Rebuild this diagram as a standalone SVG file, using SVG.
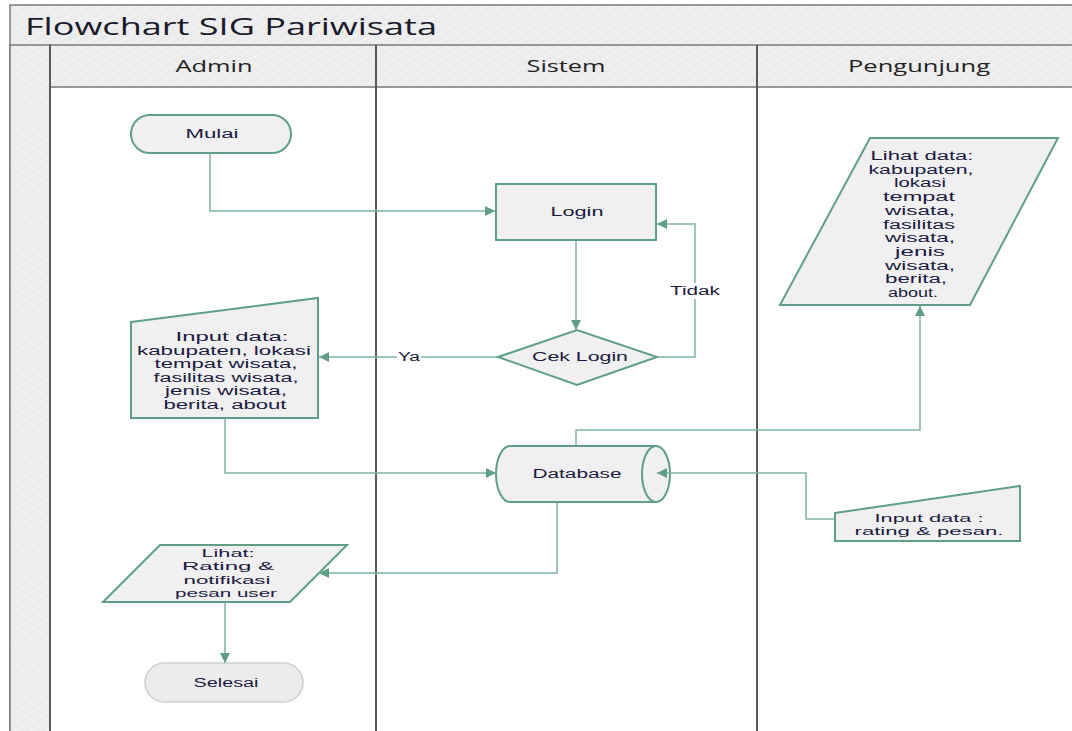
<svg xmlns="http://www.w3.org/2000/svg" width="1072" height="731" viewBox="0 0 1072 731">
<defs>
<pattern id="stripe" width="8" height="8" patternUnits="userSpaceOnUse" patternTransform="rotate(-30)">
<rect width="8" height="8" fill="#ececec"/>
<line x1="0" y1="0" x2="8" y2="0" stroke="#f4f4f4" stroke-width="2"/>
</pattern>
<marker id="arr" viewBox="0 0 10 10" refX="10" refY="5" markerWidth="10" markerHeight="10" markerUnits="userSpaceOnUse" orient="auto">
<path d="M0,0 L10,5 L0,10 z" fill="#5f9f86"/>
</marker>
</defs>
<style>
.frame{fill:url(#stripe);stroke:#7a7a7a;stroke-width:1.5}
.lane{stroke:#5a5a5a;stroke-width:2}
.node{fill:#f0f0f0;stroke:#5f9f86;stroke-width:2}
.conn{fill:none;stroke:#7fb5a0;stroke-width:1.5}
.t{font-family:"Liberation Sans",Arial,sans-serif;font-size:12px;fill:#1a1a40;text-anchor:middle;dominant-baseline:central}
.s{font-size:11.5px}
.h{font-family:"Open Sans","Noto Sans",sans-serif;font-size:16px;fill:#222;text-anchor:middle;dominant-baseline:central}
.lbl{fill:#ffffff}
</style>
<rect width="1072" height="731" fill="#ffffff"/>
<g id="frame">
<rect class="frame" x="10" y="5" width="1080" height="740"/>
<rect class="frame" x="10" y="45" width="40" height="700"/>
<rect class="frame" x="50" y="45" width="1040" height="42"/>
<rect x="51" y="88" width="1030" height="650" fill="#ffffff"/>
<line class="lane" x1="50" y1="45" x2="50" y2="731"/>
<line class="lane" x1="376" y1="45" x2="376" y2="731"/>
<line class="lane" x1="757" y1="45" x2="757" y2="731"/>
<text x="25" y="25" font-family="'Open Sans','Noto Sans',sans-serif" font-size="24" fill="#1a1a2a" dominant-baseline="central" textLength="412" lengthAdjust="spacingAndGlyphs">Flowchart SIG Pariwisata</text>
<text class="h" x="214" y="66" textLength="77" lengthAdjust="spacingAndGlyphs">Admin</text>
<text class="h" x="566" y="66" textLength="79" lengthAdjust="spacingAndGlyphs">Sistem</text>
<text class="h" x="919" y="66" textLength="142" lengthAdjust="spacingAndGlyphs">Pengunjung</text>
</g>
<g id="mulai">
<rect class="node" x="131" y="115" width="160" height="38" rx="19"/>
<text class="t" x="212" y="134" textLength="53" lengthAdjust="spacingAndGlyphs">Mulai</text>
</g>
<g id="login">
<rect class="node" x="496" y="184" width="160" height="56"/>
<text class="t" x="577" y="212" textLength="53" lengthAdjust="spacingAndGlyphs">Login</text>
</g>
<g id="ceklogin">
<polygon class="node" points="498,357 577,330 657,357 577,385"/>
<text class="t" x="580" y="357" textLength="96" lengthAdjust="spacingAndGlyphs">Cek Login</text>
</g>
<g id="inputdata">
<polygon class="node" points="131,322 318,298 318,418 131,418"/>
<text class="t" x="232" y="337" textLength="113" lengthAdjust="spacingAndGlyphs">Input data:</text>
<text class="t" x="224" y="350.5" textLength="174" lengthAdjust="spacingAndGlyphs">kabupaten, lokasi</text>
<text class="t" x="226" y="364" textLength="143" lengthAdjust="spacingAndGlyphs">tempat wisata,</text>
<text class="t" x="226" y="377.5" textLength="145" lengthAdjust="spacingAndGlyphs">fasilitas wisata,</text>
<text class="t" x="226" y="391" textLength="122" lengthAdjust="spacingAndGlyphs">jenis wisata,</text>
<text class="t" x="225" y="404.5" textLength="123" lengthAdjust="spacingAndGlyphs">berita, about</text>
</g>
<g id="database">
<path class="node" d="M510,446 L656,446 A14,28 0 0 1 656,502 L510,502 A14,28 0 0 1 510,446 Z"/>
<path fill="none" stroke="#5f9f86" stroke-width="2" d="M656,446 A14,28 0 0 0 656,502"/>
<text class="t" x="577" y="474" textLength="89" lengthAdjust="spacingAndGlyphs">Database</text>
</g>
<g id="lihatdata">
<polygon class="node" points="870,138 1058,138 970,305 780,305"/>
<text class="t" x="922" y="156" textLength="103" lengthAdjust="spacingAndGlyphs">Lihat data:</text>
<text class="t" x="921" y="169.7" textLength="105" lengthAdjust="spacingAndGlyphs">kabupaten,</text>
<text class="t" x="920" y="183.4" textLength="52" lengthAdjust="spacingAndGlyphs">lokasi</text>
<text class="t" x="919" y="197.1" textLength="72" lengthAdjust="spacingAndGlyphs">tempat</text>
<text class="t" x="920" y="210.8" textLength="70" lengthAdjust="spacingAndGlyphs">wisata,</text>
<text class="t" x="919" y="224.5" textLength="72" lengthAdjust="spacingAndGlyphs">fasilitas</text>
<text class="t" x="920" y="238.2" textLength="70" lengthAdjust="spacingAndGlyphs">wisata,</text>
<text class="t" x="920" y="251.9" textLength="50" lengthAdjust="spacingAndGlyphs">jenis</text>
<text class="t" x="920" y="265.6" textLength="70" lengthAdjust="spacingAndGlyphs">wisata,</text>
<text class="t" x="916" y="279.3" textLength="62" lengthAdjust="spacingAndGlyphs">berita,</text>
<text class="t" x="913" y="293" textLength="50" lengthAdjust="spacingAndGlyphs">about.</text>
</g>
<g id="inputrating">
<polygon class="node" points="835,513 1020,486 1020,541 835,541"/>
<text class="t s" x="929" y="518" textLength="109" lengthAdjust="spacingAndGlyphs">Input data :</text>
<text class="t s" x="929" y="531" textLength="149" lengthAdjust="spacingAndGlyphs">rating &amp; pesan.</text>
</g>
<g id="lihatrating">
<polygon class="node" points="160,545 347,545 290,602 103,602"/>
<text class="t s" x="228" y="553" textLength="53" lengthAdjust="spacingAndGlyphs">Lihat:</text>
<text class="t s" x="228" y="566" textLength="92" lengthAdjust="spacingAndGlyphs">Rating  &amp;</text>
<text class="t s" x="227" y="580" textLength="87" lengthAdjust="spacingAndGlyphs">notifikasi</text>
<text class="t s" x="226" y="593" textLength="102" lengthAdjust="spacingAndGlyphs">pesan user</text>
</g>
<g id="selesai">
<rect x="145" y="663" width="158" height="39" rx="19.5" fill="#ececec" stroke="#c8d4ce" stroke-width="1.5"/>
<text class="t" x="226" y="683" textLength="65" lengthAdjust="spacingAndGlyphs">Selesai</text>
</g>
<g id="connectors">
<polyline class="conn" points="210,154 210,211 495,211" marker-end="url(#arr)"/>
<polyline class="conn" points="576,241 576,330" marker-end="url(#arr)"/>
<polyline class="conn" points="658,357 695,357 695,224 657,224" marker-end="url(#arr)"/>
<rect class="lbl" x="670" y="283" width="50" height="16"/>
<text class="t" x="695" y="291" textLength="50" lengthAdjust="spacingAndGlyphs">Tidak</text>
<polyline class="conn" points="497,357 319,357" marker-end="url(#arr)"/>
<rect class="lbl" x="397" y="349" width="24" height="16"/>
<text class="t" x="409" y="357" textLength="22" lengthAdjust="spacingAndGlyphs">Ya</text>
<polyline class="conn" points="225,419 225,473 496,473" marker-end="url(#arr)"/>
<polyline class="conn" points="576,445 576,430 920,430 920,306" marker-end="url(#arr)"/>
<polyline class="conn" points="834,519 806,519 806,473 657,473" marker-end="url(#arr)"/>
<polyline class="conn" points="557,503 557,573 319,573" marker-end="url(#arr)"/>
<polyline class="conn" points="225,603 225,663" marker-end="url(#arr)"/>
</g>
</svg>
